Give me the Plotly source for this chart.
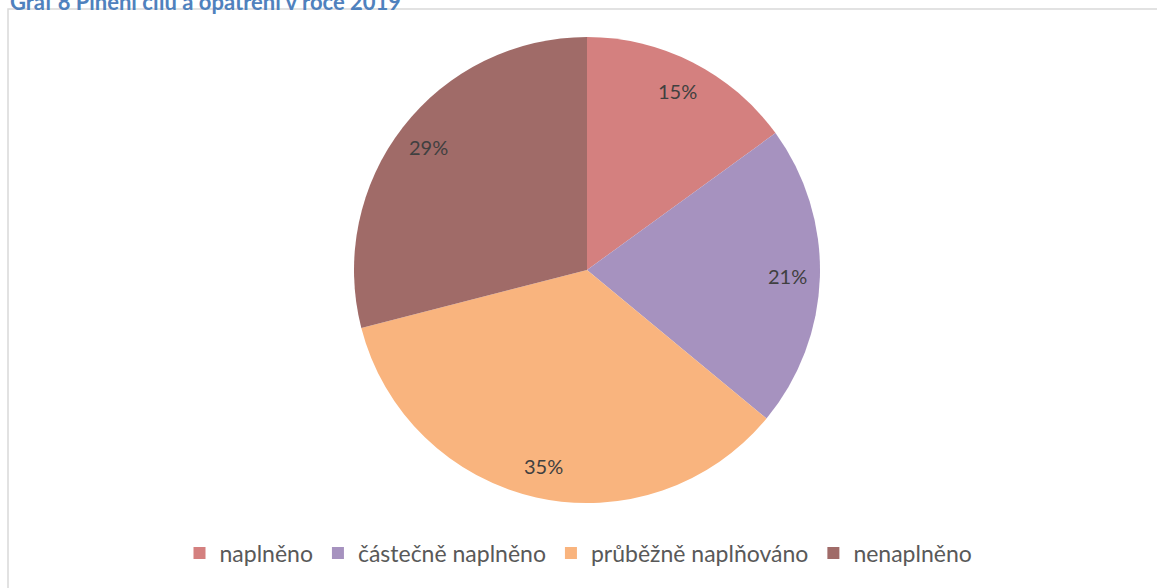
import math
import plotly.graph_objects as go

categories = ["naplněno", "částečně naplněno", "průběžně naplňováno", "nenaplněno"]
values = [15, 21, 35, 29]
colors = ["#D4807F", "#A692BF", "#F9B47E", "#A06B68"]
title_text = "Graf 8 Plnění cílů a opatření v roce 2019"

W, H = 1157, 588
cx, cy, R = 587, 270, 233  # pie centre / radius in pixels (from top)

dom_x = [(cx - R) / W, (cx + R) / W]
dom_y = [(H - cy - R) / H, (H - cy + R) / H]

FONT = "Lato"

fig = go.Figure()
fig.add_trace(go.Pie(
    labels=categories, values=values, sort=False, direction="clockwise",
    rotation=0, marker=dict(colors=colors, line=dict(width=0)),
    textinfo="none", hoverinfo="label+percent",
    domain=dict(x=dom_x, y=dom_y),
))

# percentage labels placed at mid-angle of each slice
total = sum(values)
cum = 0
annotations = []
for v in values:
    mid = (cum + v / 2) / total * 2 * math.pi
    cum += v
    r = 0.86 * R
    px = cx + r * math.sin(mid)
    py = cy - r * math.cos(mid)
    annotations.append(dict(
        x=px / W, y=1 - py / H, xref="paper", yref="paper",
        text=f"{round(v / total * 100)}%", showarrow=False,
        font=dict(family=FONT, size=20, color="#404040"),
        xanchor="center", yanchor="middle",
    ))

# title, clipped at the very top as in the reference
annotations.append(dict(
    x=8 / W, y=1, xref="paper", yref="paper", text=f"<b>{title_text}</b>",
    showarrow=False, xanchor="left", yanchor="middle", yshift=-1,
    font=dict(family=FONT, size=22, color="#4F81BD"),
))

fig.update_layout(
    width=W, height=H,
    margin=dict(l=0, r=0, t=0, b=0),
    paper_bgcolor="white", plot_bgcolor="white",
    showlegend=True,
    legend=dict(
        orientation="h", x=0.5, xanchor="center", y=1 - 553 / H, yanchor="middle",
        font=dict(family=FONT, size=23, color="#595959"),
        itemwidth=30, traceorder="normal",
    ),
    annotations=annotations,
    shapes=[dict(
        type="rect", xref="paper", yref="paper",
        x0=8 / W, x1=1.01, y0=-0.01, y1=1 - 9 / H,
        line=dict(color="#D9D9D9", width=1.5), fillcolor="rgba(0,0,0,0)",
        layer="below",
    )],
)

fig.write_html(
    "out.html",
    config={"displayModeBar": False},
    post_script="document.body.style.margin='0';document.body.style.overflow='hidden';",
)
